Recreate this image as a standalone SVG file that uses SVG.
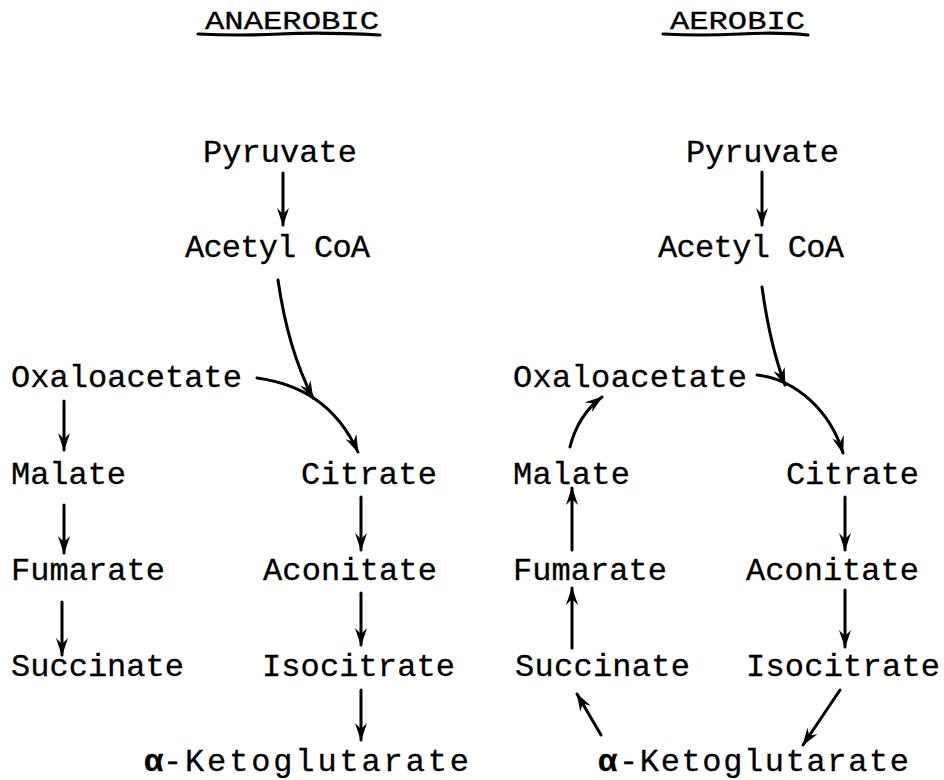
<svg xmlns="http://www.w3.org/2000/svg" width="944" height="780" viewBox="0 0 944 780">
<style>
.t { font-family: "Liberation Mono", "Courier New", monospace; font-size: 32px; fill: #000; stroke: #000; stroke-width: 0.3px; }
.h { font-size: 26px; }
.a { font-weight: bold; font-size: 32px; }
.c { fill: none; stroke: #000; stroke-width: 3; stroke-linecap: round; }
.u { fill: none; stroke: #000; stroke-width: 3.2; stroke-linecap: round; }
</style>
<defs>
<marker id="ah" viewBox="0 0 18 12" refX="17" refY="6" markerWidth="18" markerHeight="12" markerUnits="userSpaceOnUse" orient="auto">
<path d="M0,0 L18,6 L0,12 L6,6 z" fill="#000"/>
</marker>
</defs>
<rect width="944" height="780" fill="#fff"/>

<g id="title-anaerobic">
<text class="t h" x="205" y="29" textLength="174" lengthAdjust="spacingAndGlyphs">ANAEROBIC</text>
<path class="u" d="M198,34 Q240,36 280,34 T380,35"/>
</g>
<g id="title-aerobic">
<text class="t h" x="670" y="29" textLength="135" lengthAdjust="spacingAndGlyphs">AEROBIC</text>
<path class="u" d="M663,34 Q700,36 740,34 T808,35"/>
</g>

<g id="L-pyruvate"><text class="t" x="203" y="162" textLength="154">Pyruvate</text></g>
<g id="L-acetylcoa"><text class="t" x="185" y="257" textLength="185">Acetyl CoA</text></g>
<g id="L-oxaloacetate"><text class="t" x="11" y="387" textLength="231">Oxaloacetate</text></g>
<g id="L-malate"><text class="t" x="11" y="484" textLength="115">Malate</text></g>
<g id="L-fumarate"><text class="t" x="11" y="580" textLength="154">Fumarate</text></g>
<g id="L-succinate"><text class="t" x="11" y="676" textLength="173">Succinate</text></g>
<g id="L-citrate"><text class="t" x="301" y="484" textLength="136">Citrate</text></g>
<g id="L-aconitate"><text class="t" x="263" y="580" textLength="174">Aconitate</text></g>
<g id="L-isocitrate"><text class="t" x="262" y="676" textLength="193">Isocitrate</text></g>
<g id="L-ketoglutarate">
<text class="t a" x="144" y="771">α</text>
<text class="t" x="163" y="771" textLength="306">-Ketoglutarate</text>
</g>

<g id="R-pyruvate"><text class="t" x="686" y="162" textLength="153">Pyruvate</text></g>
<g id="R-acetylcoa"><text class="t" x="658" y="257" textLength="186">Acetyl CoA</text></g>
<g id="R-oxaloacetate"><text class="t" x="513" y="387" textLength="234">Oxaloacetate</text></g>
<g id="R-malate"><text class="t" x="513" y="484" textLength="117">Malate</text></g>
<g id="R-fumarate"><text class="t" x="513" y="580" textLength="154">Fumarate</text></g>
<g id="R-succinate"><text class="t" x="515" y="676" textLength="175">Succinate</text></g>
<g id="R-citrate"><text class="t" x="786" y="484" textLength="133">Citrate</text></g>
<g id="R-aconitate"><text class="t" x="746" y="580" textLength="173">Aconitate</text></g>
<g id="R-isocitrate"><text class="t" x="746" y="676" textLength="194">Isocitrate</text></g>
<g id="R-ketoglutarate">
<text class="t a" x="598" y="771">α</text>
<text class="t" x="619" y="771" textLength="290">-Ketoglutarate</text>
</g>

<g id="connectors">
<path class="c" marker-end="url(#ah)" d="M283,173 L283,225"/>
<path class="c" marker-end="url(#ah)" d="M278,280 Q288,350 313,398"/>
<path class="c" marker-end="url(#ah)" d="M257,378 C300,384 336,404 358,452"/>
<path class="c" marker-end="url(#ah)" d="M64,401 L64,450"/>
<path class="c" marker-end="url(#ah)" d="M64,505 L64,553"/>
<path class="c" marker-end="url(#ah)" d="M62,602 L62,655"/>
<path class="c" marker-end="url(#ah)" d="M361,497 L361,550"/>
<path class="c" marker-end="url(#ah)" d="M361,593 L361,645"/>
<path class="c" marker-end="url(#ah)" d="M361,690 L361,740"/>

<path class="c" marker-end="url(#ah)" d="M762,172 L762,225"/>
<path class="c" marker-end="url(#ah)" d="M762,287 Q770,345 785,385"/>
<path class="c" marker-end="url(#ah)" d="M757,375 C795,379 830,410 843,453"/>
<path class="c" marker-end="url(#ah)" d="M845,497 L845,550"/>
<path class="c" marker-end="url(#ah)" d="M845,590 L845,647"/>
<path class="c" marker-end="url(#ah)" d="M840,690 L803,745"/>
<path class="c" marker-end="url(#ah)" d="M601,735 L577,694"/>
<path class="c" marker-end="url(#ah)" d="M572,648 L572,588"/>
<path class="c" marker-end="url(#ah)" d="M572,550 L572,488"/>
<path class="c" marker-end="url(#ah)" d="M570,447 Q578,415 602,397"/>
</g>
</svg>
